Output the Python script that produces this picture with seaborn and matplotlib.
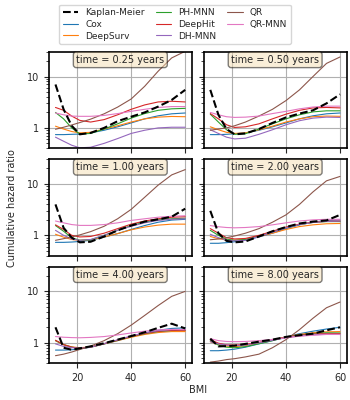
import numpy as np
import pandas as pd
import matplotlib
matplotlib.use("Agg")
import matplotlib.pyplot as plt
import seaborn as sns
from matplotlib.lines import Line2D
from matplotlib.ticker import LogLocator, FuncFormatter, NullFormatter

# BMI grid the curves were read at
bmi = [12, 15, 18, 21, 25, 30, 35, 40, 45, 50, 55, 60]

models = ["Kaplan-Meier", "Cox", "DeepSurv", "PH-MNN", "DeepHit", "DH-MNN", "QR", "QR-MNN"]
colors = {
    "Kaplan-Meier": "black", "Cox": "#1f77b4", "DeepSurv": "#ff7f0e",
    "PH-MNN": "#2ca02c", "DeepHit": "#d62728", "DH-MNN": "#9467bd",
    "QR": "#8c564b", "QR-MNN": "#e377c2",
}
times = [0.25, 0.50, 1.00, 2.00, 4.00, 8.00]

# cumulative hazard ratio per panel, one list per model (order as in `models`)
t025 = [
    [7.0, 2.3, 1.1, 0.75, 0.8, 1.0, 1.35, 1.65, 2.0, 2.6, 3.5, 5.5],
    [0.74, 0.74, 0.75, 0.76, 0.8, 0.9, 1.05, 1.25, 1.5, 1.72, 1.88, 1.95],
    [1.08, 0.95, 0.85, 0.8, 0.82, 0.95, 1.1, 1.3, 1.5, 1.62, 1.67, 1.65],
    [2.0, 1.5, 1.0, 0.76, 0.78, 0.95, 1.2, 1.55, 1.9, 2.2, 2.35, 2.4],
    [2.5, 2.2, 1.7, 1.4, 1.3, 1.45, 1.8, 2.3, 2.8, 3.2, 3.3, 3.2],
    [0.66, 0.55, 0.46, 0.41, 0.42, 0.5, 0.62, 0.78, 0.9, 1.0, 1.03, 1.03],
    [0.94, 1.03, 1.14, 1.27, 1.48, 1.88, 2.54, 3.65, 6.45, 12.7, 23, 31],
    [1.95, 1.8, 1.7, 1.68, 1.68, 1.75, 1.9, 2.1, 2.3, 2.5, 2.6, 2.6],
]
t050 = [
    [5.5, 1.8, 0.95, 0.75, 0.78, 0.95, 1.25, 1.6, 1.9, 2.2, 3.0, 4.5],
    [0.74, 0.74, 0.75, 0.77, 0.8, 0.9, 1.05, 1.25, 1.5, 1.72, 1.88, 1.95],
    [1.05, 0.92, 0.82, 0.78, 0.8, 0.92, 1.08, 1.3, 1.5, 1.65, 1.7, 1.68],
    [1.85, 1.3, 0.92, 0.75, 0.77, 0.95, 1.2, 1.5, 1.8, 2.05, 2.15, 2.15],
    [1.9, 1.5, 1.15, 1.02, 1.05, 1.2, 1.5, 1.85, 2.2, 2.45, 2.5, 2.45],
    [0.92, 0.78, 0.66, 0.61, 0.63, 0.75, 0.92, 1.15, 1.38, 1.55, 1.62, 1.6],
    [0.9, 0.95, 1.0, 1.1, 1.3, 1.7, 2.3, 3.4, 5.5, 10, 18, 24],
    [2.0, 1.8, 1.65, 1.6, 1.62, 1.7, 1.9, 2.1, 2.35, 2.55, 2.65, 2.65],
]
t100 = [
    [4.0, 1.4, 0.9, 0.73, 0.75, 0.95, 1.25, 1.55, 1.85, 2.05, 2.3, 3.3],
    [0.73, 0.73, 0.74, 0.76, 0.8, 0.92, 1.08, 1.3, 1.55, 1.8, 1.98, 2.05],
    [1.05, 0.92, 0.83, 0.8, 0.82, 0.93, 1.08, 1.28, 1.45, 1.58, 1.65, 1.65],
    [1.55, 1.2, 0.9, 0.8, 0.82, 1.0, 1.25, 1.55, 1.8, 2.0, 2.1, 2.15],
    [1.6, 1.3, 1.0, 0.93, 0.95, 1.1, 1.35, 1.65, 1.9, 2.1, 2.25, 2.3],
    [1.25, 1.0, 0.85, 0.8, 0.83, 1.0, 1.25, 1.5, 1.75, 1.95, 2.05, 2.1],
    [0.8, 0.86, 0.93, 1.02, 1.18, 1.5, 2.1, 3.2, 5.5, 9.5, 15, 19],
    [1.9, 1.75, 1.62, 1.56, 1.56, 1.62, 1.75, 1.95, 2.1, 2.25, 2.35, 2.4],
]
t200 = [
    [3.0, 1.1, 0.78, 0.73, 0.76, 0.95, 1.2, 1.45, 1.7, 1.85, 1.95, 2.5],
    [0.7, 0.7, 0.72, 0.75, 0.8, 0.93, 1.1, 1.35, 1.6, 1.8, 1.95, 2.0],
    [0.95, 0.86, 0.81, 0.8, 0.83, 0.95, 1.1, 1.3, 1.48, 1.6, 1.68, 1.7],
    [1.25, 1.0, 0.84, 0.8, 0.83, 0.98, 1.18, 1.42, 1.62, 1.78, 1.85, 1.85],
    [1.35, 1.1, 0.9, 0.85, 0.87, 1.0, 1.2, 1.45, 1.65, 1.8, 1.88, 1.9],
    [1.05, 0.9, 0.8, 0.78, 0.8, 0.95, 1.15, 1.4, 1.62, 1.78, 1.87, 1.9],
    [0.82, 0.85, 0.9, 0.97, 1.1, 1.35, 1.8, 2.5, 4.0, 7.0, 11.5, 14],
    [1.55, 1.47, 1.42, 1.4, 1.42, 1.48, 1.6, 1.75, 1.9, 2.0, 2.05, 2.05],
]
t400 = [
    [2.0, 0.8, 0.73, 0.78, 0.85, 0.98, 1.15, 1.35, 1.6, 1.95, 2.35, 1.9],
    [0.72, 0.72, 0.73, 0.76, 0.82, 0.95, 1.1, 1.3, 1.55, 1.75, 1.9, 1.95],
    [1.1, 0.92, 0.83, 0.8, 0.83, 0.95, 1.1, 1.28, 1.45, 1.58, 1.65, 1.65],
    [1.1, 0.92, 0.82, 0.78, 0.82, 0.95, 1.12, 1.32, 1.5, 1.65, 1.73, 1.75],
    [1.12, 0.92, 0.82, 0.78, 0.82, 0.96, 1.13, 1.33, 1.52, 1.67, 1.74, 1.75],
    [0.95, 0.85, 0.8, 0.78, 0.82, 0.96, 1.14, 1.36, 1.56, 1.72, 1.8, 1.8],
    [0.56, 0.6, 0.66, 0.74, 0.86, 1.1, 1.5, 2.2, 3.4, 5.3, 8.0, 10],
    [1.32, 1.28, 1.26, 1.25, 1.27, 1.32, 1.42, 1.55, 1.68, 1.78, 1.82, 1.8],
]
t800 = [
    [1.2, 0.85, 0.86, 0.88, 0.95, 1.05, 1.15, 1.3, 1.4, 1.5, 1.75, 2.0],
    [0.7, 0.7, 0.72, 0.75, 0.82, 0.95, 1.1, 1.3, 1.5, 1.68, 1.85, 2.0],
    [1.05, 0.92, 0.86, 0.84, 0.88, 0.98, 1.12, 1.3, 1.45, 1.57, 1.63, 1.65],
    [1.1, 0.9, 0.82, 0.8, 0.84, 0.96, 1.1, 1.28, 1.42, 1.52, 1.56, 1.55],
    [1.15, 0.98, 0.91, 0.9, 0.93, 1.02, 1.14, 1.28, 1.4, 1.48, 1.5, 1.5],
    [1.05, 0.95, 0.9, 0.88, 0.9, 1.0, 1.12, 1.25, 1.36, 1.43, 1.46, 1.45],
    [0.42, 0.44, 0.47, 0.49, 0.53, 0.6, 0.8, 1.15, 1.8, 3.0, 4.8, 6.2],
    [1.2, 1.1, 1.06, 1.05, 1.06, 1.1, 1.16, 1.25, 1.34, 1.4, 1.45, 1.45],
]
panels = [t025, t050, t100, t200, t400, t800]

sns.set_style("ticks")
plt.rcParams["font.family"] = ["DejaVu Sans"]
plt.rcParams["font.size"] = 7

fig, axes = plt.subplots(3, 2, figsize=(3.5, 4.0), dpi=100, sharex=True, sharey=True)
fig.subplots_adjust(left=0.14, right=0.99, top=0.87, bottom=0.092, wspace=0.085, hspace=0.115)

for ax, t, vals in zip(axes.flat, times, panels):
    df = pd.DataFrame({"BMI": bmi})
    for name, v in zip(models, vals):
        df[name] = v
    long = df.melt(id_vars="BMI", var_name="model", value_name="ratio")
    for name in models:
        sub = long[long["model"] == name]
        km = name == "Kaplan-Meier"
        sns.lineplot(data=sub, x="BMI", y="ratio", ax=ax, color=colors[name],
                     linestyle="--" if km else "-", linewidth=1.5 if km else 0.8,
                     legend=False, zorder=3 if km else 2)
    ax.set_yscale("log")
    ax.set_ylim(0.4, 30)
    ax.set_xticks([20, 40, 60])
    ax.yaxis.set_major_locator(LogLocator(base=10))
    ax.yaxis.set_major_formatter(FuncFormatter(lambda y, p: f"{y:g}"))
    ax.yaxis.set_minor_formatter(NullFormatter())
    ax.grid(True, which="major", color="#b0b0b0", linewidth=0.8)
    ax.set_xlabel("")
    ax.set_ylabel("")
    ax.tick_params(labelsize=7)
    for s in ax.spines.values():
        s.set_linewidth(1.2)
        s.set_color("black")
    ax.text(0.5, 0.92, f"time = {t:.2f} years", transform=ax.transAxes,
            ha="center", va="center", fontsize=7,
            bbox=dict(boxstyle="round", facecolor="wheat", alpha=0.5, edgecolor="black"))

# legend handles built explicitly so colours match the models
handles = [Line2D([], [], color=colors[m], linestyle="--" if m == "Kaplan-Meier" else "-",
                  linewidth=1.5 if m == "Kaplan-Meier" else 0.8) for m in models]
fig.legend(handles, models, loc="upper center", ncol=3, fontsize=6.5,
           bbox_to_anchor=(0.5, 1.0), frameon=True, handlelength=1.7,
           labelspacing=0.3, columnspacing=1.2, borderpad=0.4)
fig.text(0.565, 0.012, "BMI", ha="center", va="bottom", fontsize=7)
fig.text(0.035, 0.48, "Cumulative hazard ratio", rotation=90, ha="center", va="center", fontsize=7)

fig.savefig("out.png", dpi=100)
